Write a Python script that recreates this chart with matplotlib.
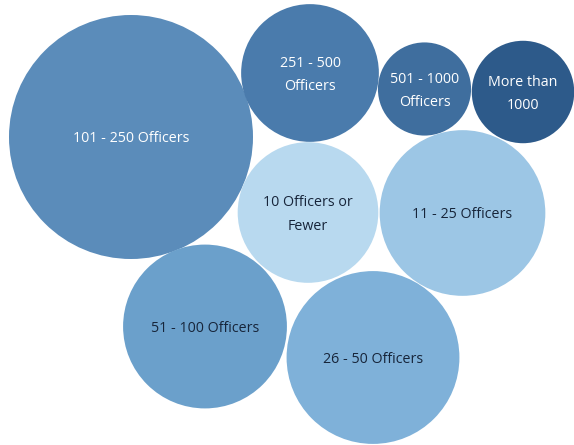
import numpy as np
import matplotlib
matplotlib.use("Agg")
import matplotlib.pyplot as plt
from matplotlib.patches import Circle

# share of departments by size (bubble area)
labels = ["101 - 250 Officers", "251 - 500\nOfficers", "501 - 1000\nOfficers", "More than\n1000",
          "10 Officers or\nFewer", "11 - 25 Officers", "51 - 100 Officers", "26 - 50 Officers"]
share = [29.5, 9.4, 4.3, 5.2, 9.8, 13.6, 13.3, 14.8]

# packed layout (bubble centres)
cx = [131, 310, 424.5, 523, 308, 462.5, 205, 373]
cy = [137, 73, 89, 92, 212.5, 213, 326.5, 357.5]

colors = ["#5b8cba", "#4a7bac", "#3f6e9e", "#2d5a8a", "#b8d9ef", "#9cc6e5", "#6ba0cb", "#7fb1d9"]
text_colors = ["white", "white", "white", "white", "#17253a", "#17253a", "#17253a", "#17253a"]

scale = 122 / np.sqrt(share[0])
radii = [scale * np.sqrt(s) for s in share]

fig = plt.figure(figsize=(5.74, 4.45), dpi=100)
ax = fig.add_axes([0, 0, 1, 1])
ax.set_xlim(0, 574)
ax.set_ylim(445, 0)
ax.set_aspect("equal")
ax.axis("off")

for lab, x, y, r, c, tc in zip(labels, cx, cy, radii, colors, text_colors):
    ax.add_patch(Circle((x, y), r, facecolor=c, edgecolor="none"))
    ax.text(x, y + 2, lab, ha="center", va="center", color=tc, fontsize=10.3,
            family="Open Sans", linespacing=1.75)

fig.savefig("out.png", dpi=100)
